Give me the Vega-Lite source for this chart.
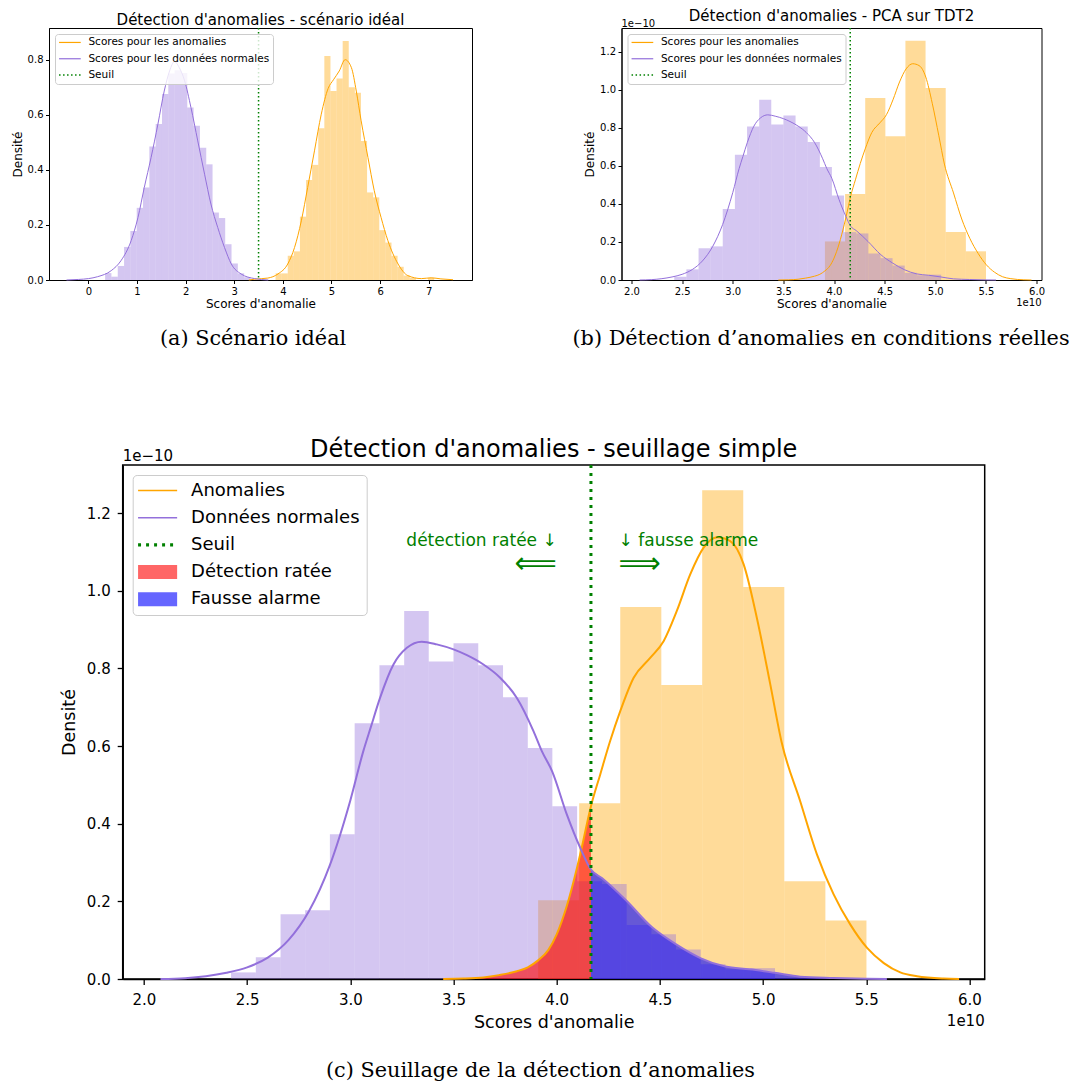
{
  "$schema": "https://vega.github.io/schema/vega-lite/v6.json",
  "background": "white",
  "padding": {"left": 10, "top": 8, "right": 0, "bottom": 0},
  "config": {
    "font": "DejaVu Sans",
    "view": {"stroke": "black", "strokeWidth": 1},
    "axis": {"grid": false, "domainColor": "black", "tickColor": "black", "labelColor": "black", "titleColor": "black", "titleFontWeight": "normal", "labelFont": "DejaVu Sans", "titleFont": "DejaVu Sans", "labelFlush": false},
    "title": {"font": "DejaVu Sans", "fontWeight": "normal", "color": "black"},
    "legend": {"labelFont": "DejaVu Sans", "labelColor": "black"}
  },
  "datasets": {
    "histA_anom": [
      {"a": 3.849, "b": 3.975, "h": 0.024}, {"a": 3.975, "b": 4.100, "h": 0.024}, {"a": 4.100, "b": 4.226, "h": 0.088},
      {"a": 4.226, "b": 4.351, "h": 0.104}, {"a": 4.351, "b": 4.477, "h": 0.230}, {"a": 4.477, "b": 4.602, "h": 0.363},
      {"a": 4.602, "b": 4.728, "h": 0.418}, {"a": 4.728, "b": 4.853, "h": 0.551}, {"a": 4.853, "b": 4.979, "h": 0.813},
      {"a": 4.979, "b": 5.104, "h": 0.686}, {"a": 5.104, "b": 5.230, "h": 0.732}, {"a": 5.230, "b": 5.355, "h": 0.868},
      {"a": 5.355, "b": 5.481, "h": 0.700}, {"a": 5.481, "b": 5.606, "h": 0.680}, {"a": 5.606, "b": 5.732, "h": 0.505},
      {"a": 5.732, "b": 5.857, "h": 0.318}, {"a": 5.857, "b": 5.983, "h": 0.300}, {"a": 5.983, "b": 6.108, "h": 0.181},
      {"a": 6.108, "b": 6.234, "h": 0.136}, {"a": 6.234, "b": 6.359, "h": 0.088}, {"a": 6.359, "b": 6.485, "h": 0.048},
      {"a": 6.485, "b": 6.610, "h": 0.016}, {"a": 6.610, "b": 6.736, "h": 0.008}, {"a": 6.986, "b": 7.112, "h": 0.008}
    ],
    "histA_norm": [
      {"a": 0.344, "b": 0.474, "h": 0.025}, {"a": 0.474, "b": 0.604, "h": 0.012}, {"a": 0.604, "b": 0.734, "h": 0.051},
      {"a": 0.734, "b": 0.864, "h": 0.120}, {"a": 0.864, "b": 0.994, "h": 0.178}, {"a": 0.994, "b": 1.124, "h": 0.262},
      {"a": 1.124, "b": 1.254, "h": 0.336}, {"a": 1.254, "b": 1.384, "h": 0.485}, {"a": 1.384, "b": 1.514, "h": 0.566},
      {"a": 1.514, "b": 1.644, "h": 0.675}, {"a": 1.644, "b": 1.774, "h": 0.750}, {"a": 1.774, "b": 1.904, "h": 0.762},
      {"a": 1.904, "b": 2.034, "h": 0.752}, {"a": 2.034, "b": 2.164, "h": 0.626}, {"a": 2.164, "b": 2.294, "h": 0.560},
      {"a": 2.294, "b": 2.424, "h": 0.480}, {"a": 2.424, "b": 2.554, "h": 0.420}, {"a": 2.554, "b": 2.684, "h": 0.245},
      {"a": 2.684, "b": 2.814, "h": 0.225}, {"a": 2.814, "b": 2.944, "h": 0.130}, {"a": 2.944, "b": 3.074, "h": 0.060},
      {"a": 3.074, "b": 3.204, "h": 0.024}, {"a": 3.204, "b": 3.334, "h": 0.010}
    ],
    "kdeA_norm": [
      {"x": -0.45, "y": 0}, {"x": -0.2, "y": 0.002}, {"x": 0.0, "y": 0.005}, {"x": 0.19, "y": 0.012}, {"x": 0.47, "y": 0.034},
      {"x": 0.67, "y": 0.07}, {"x": 0.88, "y": 0.143}, {"x": 1.02, "y": 0.227}, {"x": 1.15, "y": 0.336}, {"x": 1.29, "y": 0.445},
      {"x": 1.43, "y": 0.566}, {"x": 1.56, "y": 0.686}, {"x": 1.67, "y": 0.759}, {"x": 1.77, "y": 0.793}, {"x": 1.87, "y": 0.771},
      {"x": 1.98, "y": 0.723}, {"x": 2.11, "y": 0.626}, {"x": 2.25, "y": 0.505}, {"x": 2.39, "y": 0.384}, {"x": 2.52, "y": 0.276},
      {"x": 2.66, "y": 0.191}, {"x": 2.80, "y": 0.118}, {"x": 2.94, "y": 0.058}, {"x": 3.14, "y": 0.022}, {"x": 3.42, "y": 0.005},
      {"x": 3.7, "y": 0}
    ],
    "kdeA_anom": [
      {"x": 3.3, "y": 0}, {"x": 3.42, "y": 0.003}, {"x": 3.69, "y": 0.007}, {"x": 3.90, "y": 0.022}, {"x": 4.10, "y": 0.058},
      {"x": 4.24, "y": 0.118}, {"x": 4.38, "y": 0.215}, {"x": 4.51, "y": 0.336}, {"x": 4.65, "y": 0.469}, {"x": 4.79, "y": 0.602},
      {"x": 4.93, "y": 0.695}, {"x": 5.04, "y": 0.727}, {"x": 5.16, "y": 0.759}, {"x": 5.28, "y": 0.80}, {"x": 5.41, "y": 0.771},
      {"x": 5.51, "y": 0.686}, {"x": 5.61, "y": 0.578}, {"x": 5.75, "y": 0.445}, {"x": 5.88, "y": 0.324}, {"x": 6.02, "y": 0.227},
      {"x": 6.16, "y": 0.143}, {"x": 6.37, "y": 0.058}, {"x": 6.57, "y": 0.016}, {"x": 6.85, "y": 0.005}, {"x": 7.05, "y": 0.008},
      {"x": 7.25, "y": 0.004}, {"x": 7.5, "y": 0.001}
    ],
    "histC_norm": [
      {"a": 2.422, "b": 2.542, "h": 0.017}, {"a": 2.542, "b": 2.662, "h": 0.056}, {"a": 2.662, "b": 2.781, "h": 0.167},
      {"a": 2.781, "b": 2.901, "h": 0.177}, {"a": 2.901, "b": 3.021, "h": 0.373}, {"a": 3.021, "b": 3.141, "h": 0.659},
      {"a": 3.141, "b": 3.261, "h": 0.808}, {"a": 3.261, "b": 3.380, "h": 0.948}, {"a": 3.380, "b": 3.500, "h": 0.818},
      {"a": 3.500, "b": 3.620, "h": 0.865}, {"a": 3.620, "b": 3.740, "h": 0.808}, {"a": 3.740, "b": 3.860, "h": 0.726},
      {"a": 3.860, "b": 3.979, "h": 0.595}, {"a": 3.979, "b": 4.099, "h": 0.445}, {"a": 4.099, "b": 4.219, "h": 0.252},
      {"a": 4.219, "b": 4.339, "h": 0.245}, {"a": 4.339, "b": 4.459, "h": 0.139}, {"a": 4.459, "b": 4.578, "h": 0.115},
      {"a": 4.578, "b": 4.698, "h": 0.076}, {"a": 4.698, "b": 4.818, "h": 0.038}, {"a": 4.818, "b": 4.938, "h": 0.025},
      {"a": 4.938, "b": 5.058, "h": 0.028}
    ],
    "histC_anom": [
      {"a": 3.910, "b": 4.109, "h": 0.203}, {"a": 4.109, "b": 4.308, "h": 0.453}, {"a": 4.308, "b": 4.507, "h": 0.958},
      {"a": 4.507, "b": 4.705, "h": 0.757}, {"a": 4.705, "b": 4.904, "h": 1.259}, {"a": 4.904, "b": 5.103, "h": 1.010},
      {"a": 5.103, "b": 5.302, "h": 0.252}, {"a": 5.302, "b": 5.501, "h": 0.151}
    ],
    "kdeC_norm": [
      {"x": 2.08, "y": 0}, {"x": 2.2, "y": 0.002}, {"x": 2.3, "y": 0.007}, {"x": 2.4, "y": 0.016}, {"x": 2.5, "y": 0.03},
      {"x": 2.6, "y": 0.055}, {"x": 2.7, "y": 0.1}, {"x": 2.8, "y": 0.175}, {"x": 2.9, "y": 0.292}, {"x": 3.0, "y": 0.46},
      {"x": 3.063, "y": 0.587}, {"x": 3.1, "y": 0.65}, {"x": 3.144, "y": 0.724}, {"x": 3.209, "y": 0.81}, {"x": 3.274, "y": 0.853},
      {"x": 3.346, "y": 0.869}, {"x": 3.419, "y": 0.862}, {"x": 3.5, "y": 0.849}, {"x": 3.565, "y": 0.834}, {"x": 3.645, "y": 0.81},
      {"x": 3.726, "y": 0.776}, {"x": 3.807, "y": 0.724}, {"x": 3.888, "y": 0.638}, {"x": 3.928, "y": 0.587}, {"x": 3.978, "y": 0.535},
      {"x": 4.049, "y": 0.424}, {"x": 4.114, "y": 0.338}, {"x": 4.166, "y": 0.282}, {"x": 4.219, "y": 0.26}, {"x": 4.337, "y": 0.202},
      {"x": 4.458, "y": 0.135}, {"x": 4.579, "y": 0.089}, {"x": 4.696, "y": 0.054}, {"x": 4.817, "y": 0.032}, {"x": 4.935, "y": 0.025},
      {"x": 5.055, "y": 0.016}, {"x": 5.18, "y": 0.006}, {"x": 5.34, "y": 0.0026}, {"x": 5.5, "y": 0.0005}, {"x": 5.6, "y": 0}
    ],
    "kdeC_anom": [
      {"x": 3.45, "y": 0}, {"x": 3.55, "y": 0.001}, {"x": 3.645, "y": 0.004}, {"x": 3.72, "y": 0.01}, {"x": 3.807, "y": 0.02},
      {"x": 3.86, "y": 0.03}, {"x": 3.91, "y": 0.048}, {"x": 3.96, "y": 0.075}, {"x": 4.0, "y": 0.115}, {"x": 4.05, "y": 0.19},
      {"x": 4.1, "y": 0.29}, {"x": 4.12, "y": 0.335}, {"x": 4.166, "y": 0.445}, {"x": 4.211, "y": 0.527}, {"x": 4.259, "y": 0.613},
      {"x": 4.308, "y": 0.69}, {"x": 4.373, "y": 0.776}, {"x": 4.453, "y": 0.827}, {"x": 4.518, "y": 0.87}, {"x": 4.582, "y": 0.948},
      {"x": 4.647, "y": 1.042}, {"x": 4.712, "y": 1.111}, {"x": 4.777, "y": 1.138}, {"x": 4.841, "y": 1.128}, {"x": 4.906, "y": 1.068},
      {"x": 4.97, "y": 0.93}, {"x": 5.035, "y": 0.759}, {"x": 5.09, "y": 0.61}, {"x": 5.18, "y": 0.458}, {"x": 5.261, "y": 0.321},
      {"x": 5.342, "y": 0.218}, {"x": 5.423, "y": 0.14}, {"x": 5.504, "y": 0.08}, {"x": 5.585, "y": 0.041}, {"x": 5.665, "y": 0.017},
      {"x": 5.746, "y": 0.007}, {"x": 5.875, "y": 0.001}, {"x": 5.95, "y": 0}
    ],
    "fillRed": [
      {"x": 3.45, "y": 0}, {"x": 3.55, "y": 0.001}, {"x": 3.645, "y": 0.004}, {"x": 3.72, "y": 0.01}, {"x": 3.807, "y": 0.02},
      {"x": 3.86, "y": 0.03}, {"x": 3.91, "y": 0.048}, {"x": 3.96, "y": 0.075}, {"x": 4.0, "y": 0.115}, {"x": 4.05, "y": 0.19},
      {"x": 4.1, "y": 0.29}, {"x": 4.12, "y": 0.335}, {"x": 4.166, "y": 0.445}
    ],
    "fillBlue": [
      {"x": 4.166, "y": 0.282}, {"x": 4.219, "y": 0.26}, {"x": 4.337, "y": 0.202}, {"x": 4.458, "y": 0.135}, {"x": 4.579, "y": 0.089},
      {"x": 4.696, "y": 0.054}, {"x": 4.817, "y": 0.032}, {"x": 4.935, "y": 0.025}, {"x": 5.055, "y": 0.016}, {"x": 5.18, "y": 0.006},
      {"x": 5.34, "y": 0.0026}, {"x": 5.5, "y": 0.0005}, {"x": 5.6, "y": 0}
    ]
  },
  "spacing": 88,
  "resolve": {"scale": {"x": "independent", "y": "independent", "color": "independent", "shape": "independent"}, "legend": {"color": "independent", "shape": "independent"}},
  "vconcat": [
    {
      "spacing": 98.5,
      "resolve": {"scale": {"x": "independent", "y": "independent", "color": "independent", "shape": "independent"}, "legend": {"color": "independent", "shape": "independent"}},
      "hconcat": [
        {
          "title": {"text": "(a) Scénario idéal", "orient": "bottom", "anchor": "middle", "font": "DejaVu Serif", "fontSize": 20.8, "fontWeight": "normal", "offset": 18.7, "dx": 11.5},
          "vconcat": [
            {
              "width": 423, "height": 252,
              "title": {"text": "Détection d'anomalies - scénario idéal", "fontSize": 15, "frame": "group", "offset": -1, "anchor": "middle"},
              "layer": [
                {"data": {"name": "histA_anom"}, "mark": {"type": "rect", "fill": "#FFA500", "fillOpacity": 0.4, "strokeWidth": 0},
                 "encoding": {
                   "x": {"field": "a", "type": "quantitative", "scale": {"domain": [-0.81, 7.89], "nice": false, "zero": false},
                         "axis": {"title": "Scores d'anomalie", "values": [0, 1, 2, 3, 4, 5, 6, 7], "format": "d", "labelFontSize": 10, "titleFontSize": 12, "tickSize": 3.5, "labelPadding": 3, "titlePadding": 2, "domainWidth": 1, "tickWidth": 1}},
                   "x2": {"field": "b"},
                   "y": {"field": "h", "type": "quantitative", "scale": {"domain": [0, 0.915], "nice": false, "zero": false},
                         "axis": {"title": "Densité", "values": [0, 0.2, 0.4, 0.6, 0.8], "format": ".1f", "labelFontSize": 10, "titleFontSize": 12, "tickSize": 3.5, "labelPadding": 2.5, "titlePadding": 3, "domainWidth": 1, "tickWidth": 1}},
                   "y2": {"datum": 0}}},
                {"data": {"name": "histA_norm"}, "mark": {"type": "rect", "fill": "#9370DB", "fillOpacity": 0.4, "strokeWidth": 0},
                 "encoding": {"x": {"field": "a", "type": "quantitative"}, "x2": {"field": "b"}, "y": {"field": "h", "type": "quantitative"}, "y2": {"datum": 0}}},
                {"data": {"name": "kdeA_anom"}, "mark": {"type": "line", "color": "#FFA500", "strokeWidth": 1, "interpolate": "monotone"},
                 "encoding": {"x": {"field": "x", "type": "quantitative"}, "y": {"field": "y", "type": "quantitative"}}},
                {"data": {"name": "kdeA_norm"}, "mark": {"type": "line", "color": "#9370DB", "strokeWidth": 1, "interpolate": "monotone"},
                 "encoding": {"x": {"field": "x", "type": "quantitative"}, "y": {"field": "y", "type": "quantitative"}}},
                {"data": {"values": [{}]}, "mark": {"type": "rule", "color": "#008000", "strokeWidth": 1.5, "strokeDash": [1.5, 2.5]},
                 "encoding": {"x": {"datum": 3.5}}},
                {"data": {"values": []}, "mark": {"type": "point", "filled": true, "opacity": 1},
                 "encoding": {
                   "color": {"field": "k", "type": "nominal",
                     "scale": {"domain": ["Scores pour les anomalies", "Scores pour les données normales", "Seuil"], "range": ["#FFA500", "#9370DB", "#008000"]},
                     "legend": {"title": null, "orient": "top-left", "offset": 6.3, "padding": 3.2, "labelFontSize": 10.5, "labelLimit": 400, "symbolSize": 100, "symbolStrokeWidth": 0, "symbolOpacity": 1, "symbolOffset": 6.45, "labelOffset": 13.3, "rowPadding": 5.3, "strokeColor": "#cccccc", "fillColor": "rgba(255,255,255,0.8)", "cornerRadius": 3}},
                   "shape": {"field": "k", "type": "nominal",
                     "scale": {"domain": ["Scores pour les anomalies", "Scores pour les données normales", "Seuil"],
                               "range": ["M-2.17,-0.12H2.17V0.12H-2.17Z", "M-2.17,-0.12H2.17V0.12H-2.17Z", "M-2.17,-0.15H-1.87V0.15H-2.17Z M-1.37,-0.15H-1.07V0.15H-1.37Z M-0.57,-0.15H-0.27V0.15H-0.57Z M0.23,-0.15H0.53V0.15H0.23Z M1.03,-0.15H1.33V0.15H1.03Z M1.83,-0.15H2.13V0.15H1.83Z"]},
                     "legend": {"title": null, "orient": "top-left", "offset": 6.3, "padding": 3.2, "labelFontSize": 10.5, "labelLimit": 400, "symbolSize": 100, "symbolStrokeWidth": 0, "symbolOpacity": 1, "symbolOffset": 6.45, "labelOffset": 13.3, "rowPadding": 5.3, "strokeColor": "#cccccc", "fillColor": "rgba(255,255,255,0.8)", "cornerRadius": 3}}
                 }}
              ]
            }
          ]
        },
        {
          "title": {"text": "(b) Détection d’anomalies en conditions réelles", "orient": "bottom", "anchor": "middle", "font": "DejaVu Serif", "fontSize": 20.8, "fontWeight": "normal", "offset": 18.7, "dx": 7},
          "vconcat": [
            {
              "width": 420, "height": 252,
              "title": {"text": "Détection d'anomalies - PCA sur TDT2", "fontSize": 15, "frame": "group", "offset": -5, "anchor": "middle"},
              "layer": [
                {"data": {"name": "histC_anom"}, "mark": {"type": "rect", "fill": "#FFA500", "fillOpacity": 0.4, "strokeWidth": 0},
                 "encoding": {
                   "x": {"field": "a", "type": "quantitative", "scale": {"domain": [1.901, 6.049], "nice": false, "zero": false},
                         "axis": {"title": "Scores d'anomalie", "values": [2, 2.5, 3, 3.5, 4, 4.5, 5, 5.5, 6], "format": ".1f", "labelFontSize": 10, "titleFontSize": 12, "tickSize": 3.5, "labelPadding": 3, "titlePadding": 2, "domainWidth": 1, "tickWidth": 1}},
                   "x2": {"field": "b"},
                   "y": {"field": "h", "type": "quantitative", "scale": {"domain": [0, 1.326], "nice": false, "zero": false},
                         "axis": {"title": "Densité", "values": [0, 0.2, 0.4, 0.6, 0.8, 1.0, 1.2], "format": ".1f", "labelFontSize": 10, "titleFontSize": 12, "tickSize": 3.5, "labelPadding": 2.5, "titlePadding": 3, "domainWidth": 1, "tickWidth": 1}},
                   "y2": {"datum": 0}}},
                {"data": {"name": "histC_norm"}, "mark": {"type": "rect", "fill": "#9370DB", "fillOpacity": 0.4, "strokeWidth": 0},
                 "encoding": {"x": {"field": "a", "type": "quantitative"}, "x2": {"field": "b"}, "y": {"field": "h", "type": "quantitative"}, "y2": {"datum": 0}}},
                {"data": {"name": "kdeC_anom"}, "mark": {"type": "line", "color": "#FFA500", "strokeWidth": 1, "interpolate": "monotone"},
                 "encoding": {"x": {"field": "x", "type": "quantitative"}, "y": {"field": "y", "type": "quantitative"}}},
                {"data": {"name": "kdeC_norm"}, "mark": {"type": "line", "color": "#9370DB", "strokeWidth": 1, "interpolate": "monotone"},
                 "encoding": {"x": {"field": "x", "type": "quantitative"}, "y": {"field": "y", "type": "quantitative"}}},
                {"data": {"values": [{}]}, "mark": {"type": "rule", "color": "#008000", "strokeWidth": 1.5, "strokeDash": [1.5, 2.5]},
                 "encoding": {"x": {"datum": 4.16}}},
                {"data": {"values": [{}]}, "mark": {"type": "text", "text": "1e−10", "fontSize": 10, "align": "left", "baseline": "alphabetic", "dy": -1, "color": "black"},
                 "encoding": {"x": {"datum": 1.901}, "y": {"datum": 1.326}}},
                {"data": {"values": [{}]}, "mark": {"type": "text", "text": "1e10", "fontSize": 10, "align": "right", "baseline": "alphabetic", "dy": 25.7, "color": "black"},
                 "encoding": {"x": {"datum": 6.049}, "y": {"datum": 0}}},
                {"data": {"values": []}, "mark": {"type": "point", "filled": true, "opacity": 1},
                 "encoding": {
                   "color": {"field": "k", "type": "nominal",
                     "scale": {"domain": ["Scores pour les anomalies", "Scores pour les données normales", "Seuil"], "range": ["#FFA500", "#9370DB", "#008000"]},
                     "legend": {"title": null, "orient": "top-left", "offset": 6.3, "padding": 3.2, "labelFontSize": 10.5, "labelLimit": 400, "symbolSize": 100, "symbolStrokeWidth": 0, "symbolOpacity": 1, "symbolOffset": 6.45, "labelOffset": 13.3, "rowPadding": 5.3, "strokeColor": "#cccccc", "fillColor": "rgba(255,255,255,0.8)", "cornerRadius": 3}},
                   "shape": {"field": "k", "type": "nominal",
                     "scale": {"domain": ["Scores pour les anomalies", "Scores pour les données normales", "Seuil"],
                               "range": ["M-2.17,-0.12H2.17V0.12H-2.17Z", "M-2.17,-0.12H2.17V0.12H-2.17Z", "M-2.17,-0.15H-1.87V0.15H-2.17Z M-1.37,-0.15H-1.07V0.15H-1.37Z M-0.57,-0.15H-0.27V0.15H-0.57Z M0.23,-0.15H0.53V0.15H0.23Z M1.03,-0.15H1.33V0.15H1.03Z M1.83,-0.15H2.13V0.15H1.83Z"]},
                     "legend": {"title": null, "orient": "top-left", "offset": 6.3, "padding": 3.2, "labelFontSize": 10.5, "labelLimit": 400, "symbolSize": 100, "symbolStrokeWidth": 0, "symbolOpacity": 1, "symbolOffset": 6.45, "labelOffset": 13.3, "rowPadding": 5.3, "strokeColor": "#cccccc", "fillColor": "rgba(255,255,255,0.8)", "cornerRadius": 3}}
                 }}
              ]
            }
          ]
        }
      ]
    },
    {
      "spacing": 4.7,
      "resolve": {"scale": {"x": "independent", "y": "independent", "color": "independent", "shape": "independent"}, "legend": {"color": "independent", "shape": "independent"}},
      "hconcat": [
        {"width": 5, "height": 10, "view": {"stroke": null}, "data": {"values": [{}]}, "mark": {"type": "text"}, "encoding": {"text": {"value": ""}}},
        {
          "title": {"text": "(c) Seuillage de la détection d’anomalies", "orient": "bottom", "anchor": "middle", "font": "DejaVu Serif", "fontSize": 20.8, "fontWeight": "normal", "offset": 29, "dx": 18},
          "vconcat": [
            {
              "width": 862, "height": 514,
              "view": {"stroke": "black", "strokeWidth": 1.5},
              "title": {"text": "Détection d'anomalies - seuillage simple", "fontSize": 24, "frame": "group", "offset": -13, "anchor": "middle"},
              "layer": [
                {"data": {"name": "histC_anom"}, "mark": {"type": "rect", "fill": "#FFA500", "fillOpacity": 0.4, "strokeWidth": 0},
                 "encoding": {
                   "x": {"field": "a", "type": "quantitative", "scale": {"domain": [1.897, 6.074], "nice": false, "zero": false},
                         "axis": {"title": "Scores d'anomalie", "values": [2, 2.5, 3, 3.5, 4, 4.5, 5, 5.5, 6], "format": ".1f", "labelFontSize": 15, "titleFontSize": 17.5, "tickSize": 5.5, "tickWidth": 1.3, "domainWidth": 1.5, "labelPadding": 8, "titlePadding": 6}},
                   "x2": {"field": "b"},
                   "y": {"field": "h", "type": "quantitative", "scale": {"domain": [0, 1.324], "nice": false, "zero": false},
                         "axis": {"title": "Densité", "values": [0, 0.2, 0.4, 0.6, 0.8, 1.0, 1.2], "format": ".1f", "labelFontSize": 15, "titleFontSize": 17.5, "tickSize": 5.5, "tickWidth": 1.3, "domainWidth": 1.5, "labelPadding": 7, "titlePadding": 8}},
                   "y2": {"datum": 0}}},
                {"data": {"name": "histC_norm"}, "mark": {"type": "rect", "fill": "#9370DB", "fillOpacity": 0.4, "strokeWidth": 0},
                 "encoding": {"x": {"field": "a", "type": "quantitative"}, "x2": {"field": "b"}, "y": {"field": "h", "type": "quantitative"}, "y2": {"datum": 0}}},
                {"data": {"name": "fillRed"}, "mark": {"type": "area", "color": "#FF0000", "opacity": 0.6, "interpolate": "monotone"},
                 "encoding": {"x": {"field": "x", "type": "quantitative"}, "y": {"field": "y", "type": "quantitative"}}},
                {"data": {"name": "fillBlue"}, "mark": {"type": "area", "color": "#0000FF", "opacity": 0.6, "interpolate": "monotone"},
                 "encoding": {"x": {"field": "x", "type": "quantitative"}, "y": {"field": "y", "type": "quantitative"}}},
                {"data": {"name": "kdeC_anom"}, "mark": {"type": "line", "color": "#FFA500", "strokeWidth": 2, "interpolate": "monotone"},
                 "encoding": {"x": {"field": "x", "type": "quantitative"}, "y": {"field": "y", "type": "quantitative"}}},
                {"data": {"name": "kdeC_norm"}, "mark": {"type": "line", "color": "#9370DB", "strokeWidth": 2, "interpolate": "monotone"},
                 "encoding": {"x": {"field": "x", "type": "quantitative"}, "y": {"field": "y", "type": "quantitative"}}},
                {"data": {"values": [{}]}, "mark": {"type": "rule", "color": "#008000", "strokeWidth": 3, "strokeDash": [3, 5]},
                 "encoding": {"x": {"datum": 4.166}}},
                {"data": {"values": [{}]}, "mark": {"type": "text", "text": "détection ratée ↓", "color": "#008000", "fontSize": 17, "align": "right", "baseline": "middle"},
                 "encoding": {"x": {"datum": 4.0}, "y": {"datum": 1.128}}},
                {"data": {"values": [{}]}, "mark": {"type": "text", "text": "⟸", "color": "#008000", "fontSize": 29.5, "align": "right", "baseline": "middle"},
                 "encoding": {"x": {"datum": 4.0}, "y": {"datum": 1.068}}},
                {"data": {"values": [{}]}, "mark": {"type": "text", "text": "↓ fausse alarme", "color": "#008000", "fontSize": 17, "align": "left", "baseline": "middle"},
                 "encoding": {"x": {"datum": 4.3}, "y": {"datum": 1.128}}},
                {"data": {"values": [{}]}, "mark": {"type": "text", "text": "⟹", "color": "#008000", "fontSize": 29.5, "align": "left", "baseline": "middle"},
                 "encoding": {"x": {"datum": 4.3}, "y": {"datum": 1.068}}},
                {"data": {"values": [{}]}, "mark": {"type": "text", "text": "1e−10", "fontSize": 15, "align": "left", "baseline": "alphabetic", "dy": -4, "color": "black"},
                 "encoding": {"x": {"datum": 1.897}, "y": {"datum": 1.324}}},
                {"data": {"values": [{}]}, "mark": {"type": "text", "text": "1e10", "fontSize": 15, "align": "right", "baseline": "alphabetic", "dy": 47, "color": "black"},
                 "encoding": {"x": {"datum": 6.074}, "y": {"datum": 0}}},
                {"data": {"values": []}, "mark": {"type": "point", "filled": true, "opacity": 1},
                 "encoding": {
                   "color": {"field": "k", "type": "nominal",
                     "scale": {"domain": ["Anomalies", "Données normales", "Seuil", "Détection ratée", "Fausse alarme"], "range": ["#FFA500", "#9370DB", "#008000", "#FF6666", "#6666FF"]},
                     "legend": {"title": null, "orient": "top-left", "offset": 9.5, "padding": 6.5, "labelFontSize": 18, "labelLimit": 400, "symbolSize": 324, "symbolStrokeWidth": 0, "symbolOpacity": 1, "symbolOffset": 9.4, "labelOffset": 24.5, "rowPadding": 9.2, "strokeColor": "#cccccc", "fillColor": "rgba(255,255,255,0.8)", "cornerRadius": 4}},
                   "shape": {"field": "k", "type": "nominal",
                     "scale": {"domain": ["Anomalies", "Données normales", "Seuil", "Détection ratée", "Fausse alarme"],
                               "range": ["M-2.17,-0.09H2.17V0.09H-2.17Z", "M-2.17,-0.09H2.17V0.09H-2.17Z", "M-2.17,-0.17H-1.84V0.17H-2.17Z M-1.28,-0.17H-0.95V0.17H-1.28Z M-0.39,-0.17H-0.06V0.17H-0.39Z M0.5,-0.17H0.83V0.17H0.5Z M1.39,-0.17H1.72V0.17H1.39Z", "M-2.17,-0.78H2.17V0.78H-2.17Z", "M-2.17,-0.78H2.17V0.78H-2.17Z"]},
                     "legend": {"title": null, "orient": "top-left", "offset": 9.5, "padding": 6.5, "labelFontSize": 18, "labelLimit": 400, "symbolSize": 324, "symbolStrokeWidth": 0, "symbolOpacity": 1, "symbolOffset": 9.4, "labelOffset": 24.5, "rowPadding": 9.2, "strokeColor": "#cccccc", "fillColor": "rgba(255,255,255,0.8)", "cornerRadius": 4}}
                 }}
              ]
            }
          ]
        }
      ]
    }
  ]
}
